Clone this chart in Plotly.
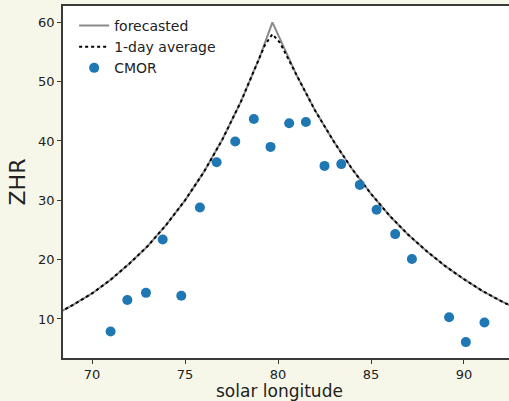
import plotly.graph_objects as go

# Forecast model curve
forecast_lon = [68, 69, 70, 71, 72, 73, 74, 75, 76, 77, 78, 79, 79.7,
                80, 81, 82, 83, 84, 85, 86, 87, 88, 89, 90, 91, 92, 93]
forecast_zhr = [10.7, 12.4, 14.3, 16.6, 19.3, 22.3, 25.9, 30.0, 34.7, 40.2, 46.6, 54.0, 60.0,
                57.9, 51.1, 45.1, 39.9, 35.2, 31.1, 27.4, 24.2, 21.4, 18.9, 16.7, 14.7, 13.0, 11.5]

# 1-day average (same curve, peak smoothed)
avg_lon = [68, 69, 70, 71, 72, 73, 74, 75, 76, 77, 78, 79, 79.3, 79.7, 80.1,
           81, 82, 83, 84, 85, 86, 87, 88, 89, 90, 91, 92, 93]
avg_zhr = [10.7, 12.4, 14.3, 16.6, 19.3, 22.3, 25.9, 30.0, 34.7, 40.2, 46.6, 54.0, 56.2, 58.0, 56.6,
           51.1, 45.1, 39.9, 35.2, 31.1, 27.4, 24.2, 21.4, 18.9, 16.7, 14.7, 13.0, 11.5]

# CMOR observations
cmor_lon = [71.0, 71.9, 72.9, 73.8, 74.8, 75.8, 76.7, 77.7, 78.7, 79.6, 80.6,
            81.5, 82.5, 83.4, 84.4, 85.3, 86.3, 87.2, 89.2, 90.1, 91.1]
cmor_zhr = [7.9, 13.2, 14.4, 23.4, 13.9, 28.8, 36.4, 39.9, 43.7, 39.0, 43.0,
            43.2, 35.8, 36.1, 32.6, 28.4, 24.3, 20.1, 10.3, 6.1, 9.4]

x_ticks = [70, 75, 80, 85, 90]
y_ticks = [10, 20, 30, 40, 50, 60]

BG = "#f7f7e9"
TXT = "#222222"
AX = "#3a3a3a"

fig = go.Figure()
fig.add_trace(go.Scatter(x=forecast_lon, y=forecast_zhr, mode="lines", name="forecasted",
                         line=dict(color="#8a8a8a", width=2), legendgroup="a"))
fig.add_trace(go.Scatter(x=avg_lon, y=avg_zhr, mode="lines", name="1-day average",
                         line=dict(color="black", width=2, dash="dot"), legendgroup="b"))
fig.add_trace(go.Scatter(x=cmor_lon, y=cmor_zhr, mode="markers", name="CMOR",
                         marker=dict(color="#1f77b4", size=10), legendgroup="c"))

fig.update_layout(
    width=509, height=401,
    margin=dict(l=63, r=0, t=6, b=43),
    paper_bgcolor=BG, plot_bgcolor="white",
    font=dict(family="DejaVu Sans", size=13, color=TXT),
    showlegend=True,
    legend=dict(x=0.025, y=0.989, xanchor="left", yanchor="top",
                bgcolor="rgba(0,0,0,0)", font=dict(size=14, color=TXT),
                tracegroupgap=3, traceorder="normal"),
    xaxis=dict(range=[68.44, 92.42], tickvals=x_ticks, ticks="outside", ticklen=4,
               tickwidth=1, tickcolor=AX, showline=True, linecolor=AX, linewidth=1.5,
               mirror=True, showgrid=False, zeroline=False),
    yaxis=dict(range=[3.42, 62.75], tickvals=y_ticks, ticks="outside", ticklen=4,
               tickwidth=1, tickcolor=AX, showline=True, linecolor=AX, linewidth=1.5,
               showgrid=False, zeroline=False,
               title=dict(text="ZHR", font=dict(size=22, color=TXT), standoff=6)),
    annotations=[dict(text="solar longitude", xref="paper", yref="paper",
                      x=0.4854, y=-0.093, xanchor="center", yanchor="middle",
                      showarrow=False, font=dict(size=17, color=TXT))],
)

fig.write_html("out.html", config={"displayModeBar": False},
               post_script="document.body.style.margin='0';document.body.style.overflow='hidden';")
